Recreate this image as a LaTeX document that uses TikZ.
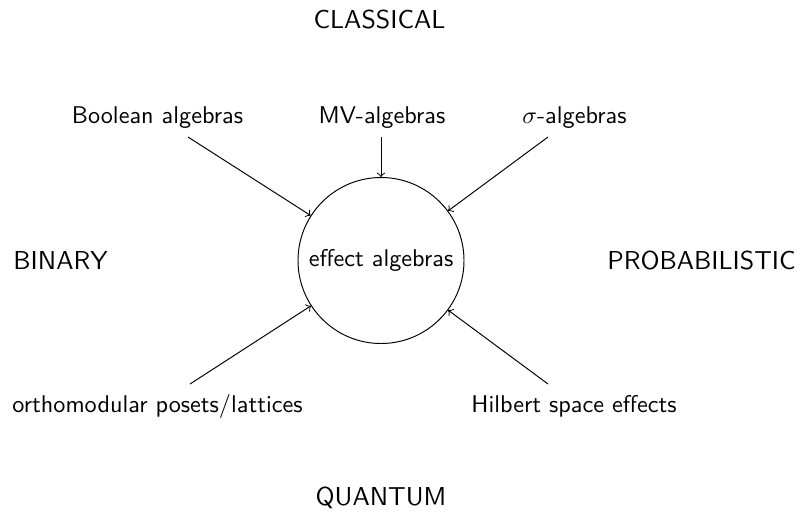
\documentclass[tikz,border=0pt]{standalone}
\begin{document}
\begin{tikzpicture}[x=0.413pt,y=-0.413pt,
  font=\sffamily\fontsize{10}{12}\selectfont,
  lbl/.style={anchor=base,inner sep=0pt},
  big/.style={anchor=base,inner sep=0pt,font=\sffamily\fontsize{10.7}{13}\selectfont},
  hub/.style={draw,circle,minimum size=68.56pt,inner sep=0pt},
  arr/.style={->,line width=0.4pt}]
\useasboundingbox (0,0) rectangle (801,514);
\node[big] (classical) at (379.5,28) {CLASSICAL};
\node[big] (binary) at (60.5,269) {BINARY};
\node[big] (prob) at (701.5,269) {PROBABILISTIC};
\node[big] (quantum) at (381,505) {QUANTUM};
\node[hub] (e) at (381,260.5) {effect algebras};
\node[lbl] (bool) at (157.5,123) {Boolean algebras};
\node[lbl] (mv) at (382,123) {MV-algebras};
\node[lbl] (sig) at (574.5,123) {$\sigma$-algebras};
\node[lbl] (orth) at (157.5,412) {orthomodular posets/lattices};
\node[lbl] (hil) at (574,412) {Hilbert space effects};
\coordinate (b0) at (188,137);
\coordinate (m0) at (381,137);
\coordinate (s0) at (548,137);
\coordinate (o0) at (190,384);
\coordinate (h0) at (548,384);
\draw[arr] (b0) -- (e);
\draw[arr] (m0) -- (e);
\draw[arr] (s0) -- (e);
\draw[arr] (o0) -- (e);
\draw[arr] (h0) -- (e);
\end{tikzpicture}
\end{document}
